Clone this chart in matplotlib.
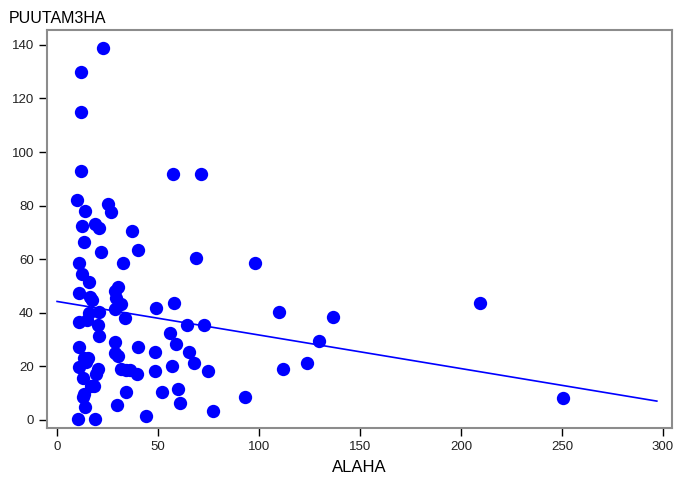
import numpy as np
import matplotlib
matplotlib.use('Agg')
import matplotlib.pyplot as plt

plt.rcParams['font.family'] = ['Liberation Sans', 'DejaVu Sans']

# ALAHA (x) and PUUTAM3HA (y)
alaha = [22.8, 12, 12, 12, 10, 14, 25, 26.7, 18.8, 12.4, 37, 13.4, 21.8, 40,
         21, 32.7, 11, 57.4, 71.3, 68.8, 98, 12.4, 15.8, 11, 16.3, 17.3,
         28.7, 30.2, 29.2, 31.7, 20.8, 11, 15, 15.8, 28.7, 33.7, 49, 58,
         110, 209.4, 136.6, 129.7, 123.8, 111.9, 72.8, 64.4, 20.3, 20.8,
         55.9, 58.9, 48.5, 65.3, 67.8, 74.8, 40, 28.7, 28.7, 30.2, 11, 13.4,
         15.3, 11, 14.4, 20.3, 19.3, 31.7, 34.2, 36.1, 39.6, 48.5, 56.9,
         12.9, 16.8, 18.3, 13.4, 12.9, 13.9, 34.2, 52, 59.9, 60.9, 29.7,
         44, 77.2, 93, 250.5, 10.4, 18.8]
puutam = [139, 130, 115, 93, 82, 78, 80.6, 77.6, 73, 72.4, 70.5, 66.4, 62.7,
          63.4, 71.6, 58.6, 58.6, 91.8, 91.8, 60.4, 58.6, 54.5, 51.5, 47.4,
          45.9, 44.8, 48.1, 49.6, 45.5, 43.3, 40.3, 36.6, 37.3, 39.9, 41.4,
          38.1, 41.8, 43.7, 40.3, 43.7, 38.4, 29.5, 21.3, 19, 35.4, 35.4,
          35.4, 31.3, 32.5, 28.4, 25.4, 25.4, 21.3, 18.3, 27.2, 29.1, 25,
          23.9, 27.2, 23.1, 23.1, 19.8, 21.6, 19, 17.2, 19, 18.7, 18.7, 17.2,
          18.3, 20.1, 15.7, 12.7, 12.7, 9.7, 8.6, 4.9, 10.4, 10.4, 11.6, 6.3,
          5.6, 1.5, 3.4, 8.6, 8.2, 0.4, 0.4]

x_ticks = [0, 50, 100, 150, 200, 250, 300]
y_ticks = [0, 20, 40, 60, 80, 100, 120, 140]

fig = plt.figure(figsize=(6.74, 4.79), dpi=100)
ax = fig.add_axes([0.0697, 0.1065, 0.9273, 0.8305])

ax.scatter(alaha, puutam, s=92, color='#0000ff', linewidths=0, zorder=3)

# least squares line drawn over 0..297
slope, intercept = np.polyfit(alaha, puutam, 1)
xl = np.array([0, 297])
ax.plot(xl, intercept + slope * xl, color='#0000ff', lw=1.2, zorder=2)

ax.set_xlim(-5, 304.5)
ax.set_ylim(-3, 145.5)
ax.set_xticks(x_ticks)
ax.set_yticks(y_ticks)
ax.tick_params(direction='out', length=6, width=1, color='black',
               labelsize=9.5, labelcolor='#222222')
for sp in ax.spines.values():
    sp.set_color('#8c8c8c')
    sp.set_linewidth(1.5)

ax.set_xlabel('ALAHA', fontsize=12, labelpad=5)
fig.text(0.013, 0.962, 'PUUTAM3HA', fontsize=11.5, ha='left', va='center')

plt.savefig('out.png', dpi=100)
